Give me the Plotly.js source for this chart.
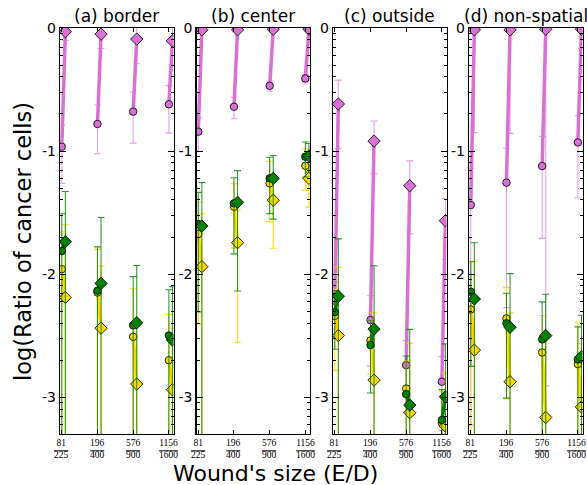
<!DOCTYPE html>
<html>
<head>
<meta charset="utf-8">
<script src="https://cdn.plot.ly/plotly-3.0.1.min.js"></script>
<style>html,body{margin:0;padding:0;background:#fff;overflow:hidden;}#chart{width:587px;height:485px;}</style>
</head>
<body>
<div id="chart"></div>
<script>
// ---- data (log10 of ratio; sd = linear standard deviation of the ratio) ----
const panelTitles = ["(a) border", "(b) center", "(c) outside", "(d) non-spatial"];
const sizeNum = ["81", "196", "576", "1156"];
const sizeDen = ["225", "400", "900", "1600"];
const yTickLabels = ["0", "-1", "-2", "-3"];

// (a) border
const a_violetCircle = [-0.965, -0.78, -0.68, -0.62];
const a_violetCircleSd = [0.054, 0.071, 0.093, 0.10];
const a_violetDiamond = [-0.03, -0.05, -0.09, -0.105];
const a_violetDiamondSd = [0.14, 0.21, 0.30, 0.28];
const a_goldCircle = [-1.96, -2.15, -2.51, -2.70];
const a_goldCircleSd = [0.011, 0.0088, 0.0045, 0.0027];
const a_goldDiamond = [-2.19, -2.44, -2.894, -2.94];
const a_goldDiamondSd = [0.0187, 0.008, 0.003, 0.0025];
const a_greenCircle = [-1.813, -2.135, -2.417, -2.50];
const a_greenCircleSd = [0.0155, 0.0093, 0.0057, 0.0043];
const a_greenDiamond = [-1.737, -2.076, -2.395, -2.536];
const a_greenDiamondSd = [0.0285, 0.0204, 0.0077, 0.005];

// (b) center
const b_violetCircle = [-0.843, -0.64, -0.47, -0.41];
const b_violetCircleSd = [0.044, 0.046, 0.031, 0.032];
const b_violetDiamond = [-0.015, -0.015, -0.01, -0.01];
const b_violetDiamondSd = [0.02, 0.02, 0.02, 0.02];
const b_goldCircle = [-1.675, -1.453, -1.263, -1.12];
const b_goldCircleSd = [0.0172, 0.019, 0.028, 0.028];
const b_goldDiamond = [-1.94, -1.745, -1.40, -1.222];
const b_goldDiamondSd = [0.0194, 0.0152, 0.0236, 0.025];
const b_greenCircle = [-1.593, -1.425, -1.222, -1.046];
const b_greenCircleSd = [0.0206, 0.023, 0.029, 0.0285];
const b_greenDiamond = [-1.61, -1.417, -1.222, -1.04];
const b_greenDiamondSd = [0.031, 0.031, 0.032, 0.024];

// (c) outside
const c_violetCircle = [-2.217, -2.374, -2.74, -2.875];
const c_violetCircleSd = [0.0025, 0.00244, 0.00106, 0.0008];
const c_violetDiamond = [-0.618, -0.919, -1.282, -1.566];
const c_violetDiamondSd = [0.136, 0.055, 0.031, 0.014];
const c_goldCircle = [-2.34, -2.54, -2.93, -3.21];
const c_goldCircleSd = [0.00293, 0.00135, 0.0008, 0.0005];
const c_goldDiamond = [-2.50, -2.862, -3.127, -3.236];
const c_goldDiamondSd = [0.0082, 0.00348, 0.0020, 0.001];
const c_greenCircle = [-2.31, -2.577, -2.976, -3.187];
const c_greenCircleSd = [0.00245, 0.00157, 0.0011, 0.0005];
const c_greenDiamond = [-2.18, -2.447, -3.065, -2.997];
const c_greenDiamondSd = [0.0127, 0.0081, 0.00269, 0.0017];

// (d) non-spatial
const d_violetCircle = [-1.439, -1.257, -1.122, -0.93];
const d_violetCircleSd = [0.0358, 0.05, 0.056, 0.076];
const d_violetDiamond = [-0.015, -0.015, -0.01, -0.01];
const d_violetDiamondSd = [0.825, 0.827, 0.976, 0.3];
const d_goldCircle = [-2.287, -2.36, -2.637, -2.732];
const d_goldCircleSd = [0.0047, 0.0034, 0.0023, 0.0022];
const d_goldDiamond = [-2.618, -2.875, -3.166, -3.08];
const d_goldDiamondSd = [0.0103, 0.0035, 0.0023, 0.0019];
const d_greenCircle = [-2.144, -2.40, -2.531, -2.694];
const d_greenCircleSd = [0.0054, 0.003, 0.003, 0.0017];
const d_greenDiamond = [-2.203, -2.433, -2.50, -2.672];
const d_greenDiamondSd = [0.0117, 0.0064, 0.0037, 0.0025];

// ---- styles ----
const COLORS = {
  violet: {line: "#DA70D6", err: "rgba(218,112,214,0.65)"},
  gold:   {line: "#FFD700", err: "rgba(255,215,0,0.9)"},
  green:  {line: "#008000", err: "rgba(0,128,0,0.8)"}
};
const OFFSET = 0.1;

const panels = [
  {violet: [a_violetCircle, a_violetCircleSd, a_violetDiamond, a_violetDiamondSd],
   gold:   [a_goldCircle, a_goldCircleSd, a_goldDiamond, a_goldDiamondSd],
   green:  [a_greenCircle, a_greenCircleSd, a_greenDiamond, a_greenDiamondSd]},
  {violet: [b_violetCircle, b_violetCircleSd, b_violetDiamond, b_violetDiamondSd],
   gold:   [b_goldCircle, b_goldCircleSd, b_goldDiamond, b_goldDiamondSd],
   green:  [b_greenCircle, b_greenCircleSd, b_greenDiamond, b_greenDiamondSd]},
  {violet: [c_violetCircle, c_violetCircleSd, c_violetDiamond, c_violetDiamondSd],
   gold:   [c_goldCircle, c_goldCircleSd, c_goldDiamond, c_goldDiamondSd],
   green:  [c_greenCircle, c_greenCircleSd, c_greenDiamond, c_greenDiamondSd]},
  {violet: [d_violetCircle, d_violetCircleSd, d_violetDiamond, d_violetDiamondSd],
   gold:   [d_goldCircle, d_goldCircleSd, d_goldDiamond, d_goldDiamondSd],
   green:  [d_greenCircle, d_greenCircleSd, d_greenDiamond, d_greenDiamondSd]}
];

function makeTrace(series, col, k) {
  const [cv, cs, dv, ds] = series;
  const x = [], y = [], e = [], sym = [], sz = [];
  for (let i = 0; i < cv.length; i++) {
    x.push(i, i + OFFSET, null);
    y.push(Math.pow(10, cv[i]), Math.pow(10, dv[i]), null);
    e.push(cs[i], ds[i], null);
    sym.push("circle", "diamond", "circle");
    sz.push(7.5, 9.5, 0);
  }
  const sfx = k === 0 ? "" : String(k + 1);
  return {
    type: "scatter", mode: "lines+markers", x: x, y: y,
    xaxis: "x" + sfx, yaxis: "y" + sfx,
    line: {color: col.line, width: 3.5},
    marker: {symbol: sym, size: sz, opacity: 1, color: col.line, line: {color: "#111", width: 0.9}},
    error_y: {type: "data", array: e, symmetric: true, color: col.err, thickness: 1.1, width: 3.5},
    connectgaps: false, showlegend: false, hoverinfo: "skip"
  };
}

const traces = [];
panels.forEach((p, k) => {
  ["violet", "gold", "green"].forEach(name => traces.push(makeTrace(p[name], COLORS[name], k)));
});

// ---- layout ----
const W = 587, H = 485;
const plotTop = 28, plotBottom = 434;
const yDom = [(H - plotBottom) / H, (H - plotTop) / H];
const panelLeft = [60, 196.5, 333, 469];
const panelWidth = 113.5;
const tickPos = [0, 1, 2, 3];

const minorVals = [];
for (let k = 1; k <= 4; k++) for (let m = 2; m <= 9; m++) minorVals.push(m * Math.pow(10, -k));

const layout = {
  width: W, height: H,
  margin: {l: 0, r: 0, t: 0, b: 0, pad: 0},
  paper_bgcolor: "#ffffff", plot_bgcolor: "#ffffff",
  font: {family: "DejaVu Sans, sans-serif", color: "#000"},
  showlegend: false,
  annotations: []
};

panelTitles.forEach((t, k) => {
  const sfx = k === 0 ? "" : String(k + 1);
  const dom = [panelLeft[k] / W, Math.min(1, (panelLeft[k] + panelWidth) / W)];
  layout["xaxis" + sfx] = {
    domain: dom, anchor: "y" + sfx, range: [-0.05, 3.13],
    tickmode: "array", tickvals: tickPos, showticklabels: false,
    ticks: "inside", ticklen: 4, tickwidth: 1, tickcolor: "#000",
    showline: true, linecolor: "#000", linewidth: 1.2, mirror: "ticks",
    showgrid: false, zeroline: false
  };
  layout["yaxis" + sfx] = {
    domain: yDom, anchor: "x" + sfx, type: "log", range: [-3.3, 0],
    tickmode: "array", tickvals: [1, 0.1, 0.01, 0.001], ticktext: yTickLabels,
    ticks: "inside", ticklen: 6, tickwidth: 1, tickcolor: "#000",
    minor: {ticks: "inside", ticklen: 3, tickwidth: 1, tickcolor: "#000", tickmode: "array", tickvals: minorVals, showgrid: false},
    showline: true, linecolor: "#000", linewidth: 1.2, mirror: "ticks",
    showgrid: false, zeroline: false,
    tickfont: {family: "DejaVu Sans, sans-serif", size: 14, color: "#000"}
  };
  layout.annotations.push({
    text: t, xref: "paper", yref: "paper",
    x: (panelLeft[k] + panelWidth / 2) / W, y: (H - plotTop) / H,
    xanchor: "center", yanchor: "bottom", yshift: 0, showarrow: false,
    font: {family: "DejaVu Sans, sans-serif", size: 17, color: "#000"}
  });
  // fraction tick labels, placed on the x axis scale
  tickPos.forEach((v, i) => {
    const atEdge = (k === panelTitles.length - 1 && i === tickPos.length - 1);
    layout.annotations.push({
      text: sizeNum[i] + "<br><span style='text-decoration:overline'>" + sizeDen[i] + "</span>",
      xref: "x" + sfx, yref: "paper", x: v, y: yDom[0],
      xanchor: atEdge ? "right" : "center", xshift: atEdge ? 9 : 0,
      yanchor: "top", yshift: -3, showarrow: false, borderpad: 0,
      font: {family: "Liberation Serif, DejaVu Serif, serif", size: 9.5, color: "#000"}
    });
  });
});

layout.annotations.push({
  text: "Wound's size (E/D)", xref: "paper", yref: "paper",
  x: 171 / W, y: (H - 473) / H, xanchor: "left", yanchor: "middle", showarrow: false,
  font: {family: "DejaVu Sans, sans-serif", size: 22, color: "#000"}
});
layout.annotations.push({
  text: "log(Ratio of cancer cells)", xref: "paper", yref: "paper",
  x: 23 / W, y: (H - 242) / H, xanchor: "center", yanchor: "middle", textangle: -90, showarrow: false,
  font: {family: "DejaVu Sans, sans-serif", size: 22.5, color: "#000"}
});

Plotly.newPlot("chart", traces, layout, {staticPlot: true, displayModeBar: false});
</script>
</body>
</html>
